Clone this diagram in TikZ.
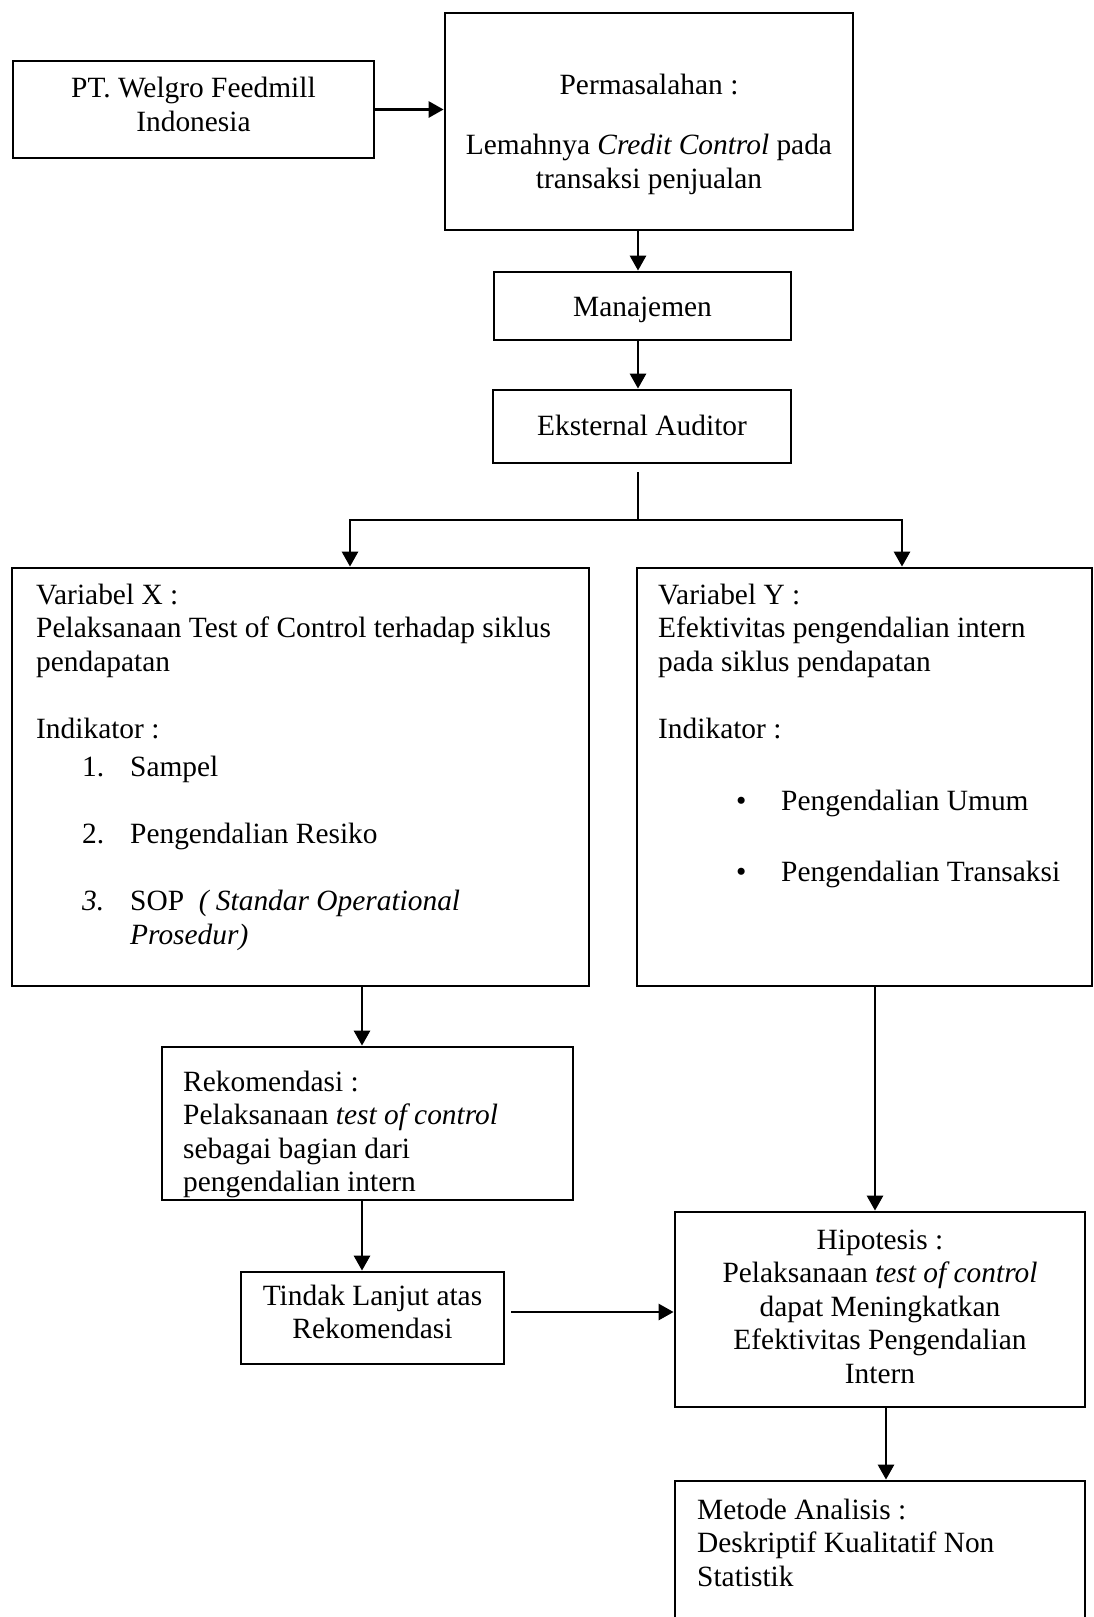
\documentclass[tikz,border=0pt]{standalone}
\usepackage{fontspec}
\setmainfont{Liberation Serif}
\usetikzlibrary{arrows.meta,fit}
\begin{document}
\begin{tikzpicture}[x=1pt,y=-1pt,
  box/.style={draw, line width=2.8pt, rectangle, inner sep=0pt},
  ln/.style={line width=2.8pt},
  arr/.style={line width=2.8pt, -{Triangle[length=15pt,width=16pt]}},
  txt/.style={inner sep=0pt, font=\fontsize{29.4}{33.5}\selectfont},
]
\useasboundingbox (0,0) rectangle (1094,1617);
\clip (0,0) rectangle (1094,1617);

% boxes
\node[box, fit={(13,61) (374,158)}] (pt) {};
\node[box, fit={(445,13) (853,230)}] (pm) {};
\node[box, fit={(494,272) (791,340)}] (mj) {};
\node[box, fit={(493,390) (791,463)}] (ek) {};
\node[box, fit={(12,568) (589,986)}] (vx) {};
\node[box, fit={(637,568) (1092,986)}] (vy) {};
\node[box, fit={(162,1047) (573,1200)}] (rk) {};
\node[box, fit={(241,1272) (504,1364)}] (td) {};
\node[box, fit={(675,1212) (1085,1407)}] (hp) {};
\node[box, fit={(675,1481) (1085,1660)}] (md) {};

% texts
\node[txt, anchor=base] (ptt) at (193.5,97) {\parbox[t]{340pt}{\centering PT. Welgro Feedmill\\[1pt]Indonesia}};
\node[txt, anchor=base] (pmt) at (649,94) {\parbox[t]{400pt}{\centering Permasalahan :\\[27pt]Lemahnya \textit{Credit Control} pada\\transaksi penjualan}};
\node[txt, anchor=base] (mjt) at (642.5,316) {Manajemen};
\node[txt, anchor=base] (ekt) at (642,435) {Eksternal Auditor};
\node[txt, anchor=base west] (vxt) at (36,604) {\parbox[t]{560pt}{\raggedright
Variabel X :\\
Pelaksanaan Test of Control terhadap siklus\\
pendapatan\\[33.5pt]
Indikator :\\[5pt]
\hspace*{46pt}\makebox[48pt][l]{1.}Sampel\\[33.5pt]
\hspace*{46pt}\makebox[48pt][l]{2.}Pengendalian Resiko\\[33.5pt]
\hspace*{46pt}\makebox[48pt][l]{\textit{3.}}SOP\ \ \textit{( Standar Operational}\\
\hspace*{94pt}\textit{Prosedur)}}};
\node[txt, anchor=base west] (vyt) at (658,604) {\parbox[t]{420pt}{\raggedright
Variabel Y :\\
Efektivitas pengendalian intern\\
pada siklus pendapatan\\[33.5pt]
Indikator :\\[39pt]
\hspace*{78pt}\makebox[45pt][l]{•}Pengendalian Umum\\[37pt]
\hspace*{78pt}\makebox[45pt][l]{•}Pengendalian Transaksi}};
\node[txt, anchor=base west] (rkt) at (183,1091) {\parbox[t]{380pt}{\raggedright
Rekomendasi :\\
Pelaksanaan \textit{test of control}\\
sebagai bagian dari\\
pengendalian intern}};
\node[txt, anchor=base] (tdt) at (372.5,1305) {\parbox[t]{260pt}{\centering Tindak Lanjut atas\\Rekomendasi}};
\node[txt, anchor=base] (hpt) at (880,1249) {\parbox[t]{400pt}{\centering
Hipotesis :\\
Pelaksanaan \textit{test of control}\\
dapat Meningkatkan\\
Efektivitas Pengendalian\\
Intern}};
\node[txt, anchor=base west] (mdt) at (697,1519) {\parbox[t]{380pt}{\raggedright
Metode Analisis :\\
Deskriptif Kualitatif Non\\
Statistik}};

% connector helper coordinates
\coordinate (ax) at (638,0);
\coordinate (j) at (638,520);
\coordinate (jl) at (350,520);
\coordinate (jr) at (902,520);
\coordinate (bx) at (362,0);
\coordinate (by) at (875,0);
\coordinate (hx) at (886,0);
\coordinate (ty) at (0,1312);

% connectors
\draw[arr] (pt.east) -- (pt.east -| pm.west);
\draw[arr] (pm.south -| ax) -- (mj.north -| ax);
\draw[arr] (mj.south -| ax) -- (ek.north -| ax);
\draw[ln, shorten <=8pt] (ek.south -| ax) -- (j);
\draw[arr] (j) -| (jl |- vx.north);
\draw[arr] (j) -| (jr |- vy.north);
\draw[arr] (vx.south -| bx) -- (rk.north -| bx);
\draw[arr] (rk.south -| bx) -- (td.north -| bx);
\draw[arr] (vy.south -| by) -- (hp.north -| by);
\draw[arr, shorten <=6pt] (td.east |- ty) -- (hp.west |- ty);
\draw[arr] (hp.south -| hx) -- (md.north -| hx);
\end{tikzpicture}
\end{document}
